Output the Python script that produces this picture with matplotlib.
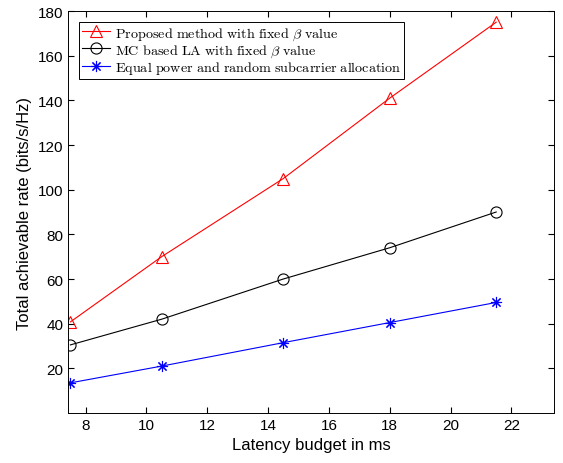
import matplotlib
matplotlib.use("Agg")
import matplotlib.pyplot as plt
import numpy as np

plt.rcParams['font.family'] = ['Liberation Sans', 'DejaVu Sans']
plt.rcParams['mathtext.fontset'] = 'cm'

latency = [7.5, 10.5, 14.5, 18, 21.5]
proposed = [40.8, 70, 105, 141, 175]
mc_la = [30.5, 42, 60, 74, 90]
equal_power = [13.5, 21, 31.5, 40.5, 49.5]

labels = [r'$\mathrm{Proposed\ method\ with\ fixed}\ \beta\ \mathrm{value}$',
          r'$\mathrm{MC\ based\ LA\ with\ fixed}\ \beta\ \mathrm{value}$',
          r'$\mathrm{Equal\ power\ and\ random\ subcarrier\ allocation}$']

fig = plt.figure(figsize=(5.63, 4.64), dpi=100)
ax = fig.add_axes([68/563, 1 - 414/464, (554-68)/563, (414-12)/464])

ax.plot(latency, proposed, color='red', lw=0.8, marker='^', ms=9,
        mfc='none', mec='red', mew=0.8, label=labels[0])
ax.plot(latency, mc_la, color='black', lw=0.8, marker='o', ms=8,
        mfc='none', mec='black', mew=0.8, label=labels[1])
ax.plot(latency, equal_power, color='blue', lw=0.8, marker=(8, 2, 0), ms=8,
        mfc='none', mec='blue', mew=0.8, label=labels[2])

ax.set_xlim(7.42, 23.4)
ax.set_ylim(0, 180)
ax.set_xticks(np.arange(8, 23, 2))
ax.set_yticks(np.arange(20, 181, 20))
ax.tick_params(direction='in', top=True, right=True, labelsize=11, length=4)
ax.set_xlabel('Latency budget in ms', fontsize=12)
ax.set_ylabel('Total achievable rate (bits/s/Hz)', fontsize=12)
for s in ax.spines.values():
    s.set_linewidth(0.7)

leg = ax.legend(loc='upper left', fontsize=10.2, fancybox=False, edgecolor='black',
                framealpha=1, borderpad=0.2, labelspacing=0.05, handlelength=2.0,
                handletextpad=0.3, borderaxespad=0.8)
leg.get_frame().set_linewidth(0.7)

plt.savefig("out.png")
